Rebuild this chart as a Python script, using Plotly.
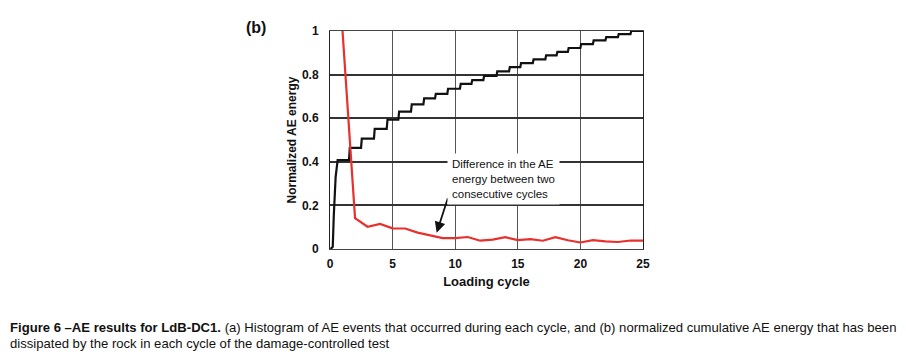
import plotly.graph_objects as go

# ---- data ----
cycles = list(range(1, 26))
diff_energy = [1.0, 0.142, 0.102, 0.115, 0.095, 0.094, 0.075, 0.063, 0.050, 0.050,
               0.055, 0.038, 0.043, 0.054, 0.041, 0.045, 0.038, 0.054, 0.040, 0.030,
               0.041, 0.035, 0.032, 0.039, 0.038]

ramp_x = [0.05, 0.22, 0.30, 0.45, 0.61]
ramp_y = [0.0, 0.01, 0.15, 0.33, 0.408]
step_x = [1.52, 2.48, 3.51, 4.53, 5.46, 6.47, 7.46, 8.39, 9.37, 10.38, 11.3, 12.25,
          13.3, 14.3, 15.2, 16.2, 17.2, 18.1, 19.0, 20.0, 21.0, 22.0, 23.0, 24.0]
step_level = [0.464, 0.506, 0.551, 0.593, 0.630, 0.663, 0.691, 0.712, 0.735, 0.757,
              0.775, 0.794, 0.815, 0.834, 0.853, 0.870, 0.888, 0.904, 0.922, 0.940,
              0.957, 0.972, 0.986, 1.0]
end_x = 25.0

x_ticks = [0, 5, 10, 15, 20, 25]
y_ticks = [0, 0.2, 0.4, 0.6, 0.8, 1]
y_tick_text = ["0", "0.2", "0.4", "0.6", "0.8", "1"]

# build staircase vertices
cum_x = list(ramp_x)
cum_y = list(ramp_y)
prev = ramp_y[-1]
for sx, lv in zip(step_x, step_level):
    cum_x += [sx, sx + 0.06]
    cum_y += [prev, lv]
    prev = lv
cum_x.append(end_x)
cum_y.append(prev)

fig = go.Figure()
fig.add_trace(go.Scatter(x=cum_x, y=cum_y, mode="lines",
                         line=dict(color="#111111", width=2.2), showlegend=False))
fig.add_trace(go.Scatter(x=cycles, y=diff_energy, mode="lines",
                         line=dict(color="#e8302c", width=2.2), showlegend=False))

axis_font = dict(family="Liberation Sans, Arial, sans-serif", size=12, color="#111111")

fig.update_xaxes(range=[0, 25], tickvals=x_ticks, ticktext=["<b>%d</b>" % v for v in x_ticks],
                 showgrid=True, gridcolor="#555555", gridwidth=1,
                 showline=True, linecolor="#444444", linewidth=1, mirror=True,
                 zeroline=False, ticks="", tickfont=axis_font, ticklabelstandoff=4,
                 title=dict(text="<b>Loading cycle</b>", font=dict(family="Liberation Sans, Arial", size=13, color="#111"),
                            standoff=6))
fig.update_yaxes(range=[0, 1], tickvals=y_ticks, ticktext=["<b>%s</b>" % t for t in y_tick_text],
                 showgrid=True, gridcolor="#333333", gridwidth=1.6,
                 showline=True, linecolor="#222222", linewidth=1, mirror=True,
                 zeroline=False, ticks="", tickfont=axis_font, ticklabelstandoff=8,
                 title=dict(text="<b>Normalized AE energy</b>", font=dict(family="Liberation Sans, Arial", size=12, color="#111"),
                            standoff=2))

fig.add_annotation(x=8.52, y=0.075, ax=9.45, ay=0.24, xref="x", yref="y", axref="x", ayref="y",
                   text="", showarrow=True, arrowhead=2, arrowsize=1.2, arrowwidth=1.8,
                   arrowcolor="#111111")
fig.add_annotation(x=9.35, y=0.44, xref="x", yref="y", xanchor="left", yanchor="top",
                   text="Difference in the AE<br>energy between two<br>consecutive cycles",
                   showarrow=False, align="left", bgcolor="white", borderpad=4,
                   font=dict(family="Liberation Sans, Arial", size=11.5, color="#111"))

L, R, T, B = 330, 263, 31, 107
W, H = 906, 356
pw, ph = W - L - R, H - T - B
def px(xp): return (xp - L) / pw
def py(yp): return (H - B - yp) / ph

fig.add_annotation(x=px(256), y=py(27), xref="paper", yref="paper", xanchor="center", yanchor="middle",
                   text="<b>(b)</b>", showarrow=False,
                   font=dict(family="Liberation Sans, Arial", size=16, color="#111"))

cap_font = dict(family="Liberation Sans, Arial", size=13.1, color="#111")
fig.add_annotation(x=px(8), y=py(327), xref="paper", yref="paper", showarrow=False,
                   xanchor="left", yanchor="middle",
                   text="<b>Figure 6 \u2013AE results for LdB-DC1.</b> (a) Histogram of AE events that occurred during each cycle, and (b) normalized cumulative AE energy that has been",
                   font=cap_font)
fig.add_annotation(x=px(8), y=py(343), xref="paper", yref="paper", showarrow=False,
                   xanchor="left", yanchor="middle",
                   text="dissipated by the rock in each cycle of the damage-controlled test",
                   font=cap_font)

fig.update_layout(width=W, height=H, margin=dict(l=L, r=R, t=T, b=B),
                  plot_bgcolor="white", paper_bgcolor="white")
fig.write_html("out.html", config={"displayModeBar": False},
               post_script="document.body.style.margin='0';document.body.style.overflow='hidden';")
